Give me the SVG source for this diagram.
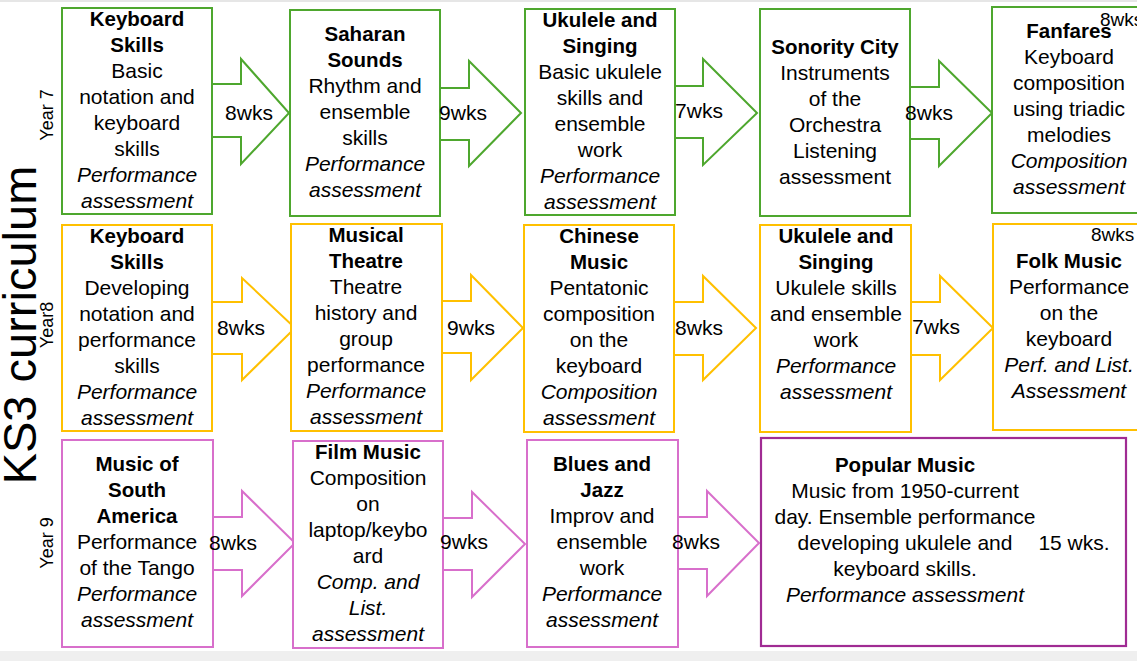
<svg xmlns="http://www.w3.org/2000/svg" width="1137" height="661" viewBox="0 0 1137 661">
<style>
text{font-family:"Liberation Sans",Arial,sans-serif;font-size:21px;fill:#000;text-anchor:middle}
.b{font-weight:bold;font-size:20.5px}
.i{font-style:italic}
.lbl{text-anchor:start}
.g{fill:#fff;stroke:#4ea72e;stroke-width:2}
.y{fill:#fff;stroke:#ffc000;stroke-width:2}
.p{fill:#fff;stroke:#d86fcb;stroke-width:2}
.pd{fill:#fff;stroke:#a02b93;stroke-width:2.2}
.ag{fill:none;stroke:#4ea72e;stroke-width:2}
.ay{fill:none;stroke:#ffc000;stroke-width:2}
.ap{fill:none;stroke:#d86fcb;stroke-width:2}
</style>
<rect x="0" y="0" width="1137" height="661" fill="#fff"/>
<rect x="0" y="0" width="1137" height="2" fill="#e6e6e6"/>
<rect x="0" y="651" width="1137" height="10" fill="#efefef"/>

<g id="side-labels">
<text transform="translate(36,325) rotate(-90)" style="font-size:47px">KS3 curriculum</text>
<text transform="translate(53,115) rotate(-90)" style="font-size:18px">Year 7</text>
<text transform="translate(53,325) rotate(-90)" style="font-size:18px">Year8</text>
<text transform="translate(53,543) rotate(-90)" style="font-size:18px">Year 9</text>
</g>

<g id="connectors">
<polyline class="ag" points="212,84 241,84 241,59 289,113 241,164 241,137 212,137"/>
<polyline class="ag" points="440,88 469,88 469,61 521,113 469,166 469,140 440,140"/>
<polyline class="ag" points="675,86 703,86 703,59 757,113 703,165 703,138 675,138"/>
<polyline class="ag" points="910,87 939,87 939,61 992,113 939,166 939,139 910,139"/>
<polyline class="ay" points="212,302 242,302 242,278 295,328 242,380 242,354 212,354"/>
<polyline class="ay" points="442,301 471,301 471,275 523,328 471,380 471,353 442,353"/>
<polyline class="ay" points="674,302 703,302 703,276 756,328 703,380 703,355 674,355"/>
<polyline class="ay" points="911,302 940,302 940,276 993,328 940,380 940,355 911,355"/>
<polyline class="ap" points="213,517 242,517 242,491 295,543 242,596 242,570 213,570"/>
<polyline class="ap" points="443,518 472,518 472,492 525,544 472,597 472,570 443,570"/>
<polyline class="ap" points="678,517 707,517 707,491 759,543 707,596 707,569 678,569"/>
</g>

<g id="y7-keyboard">
<rect class="g" x="62" y="8" width="150" height="206"/>
<text x="137" y="26" class="b">Keyboard</text>
<text x="137" y="52" class="b">Skills</text>
<text x="137" y="78">Basic</text>
<text x="137" y="104">notation and</text>
<text x="137" y="130">keyboard</text>
<text x="137" y="156">skills</text>
<text x="137" y="182" class="i">Performance</text>
<text x="137" y="208" class="i">assessment</text>
</g>
<g id="y7-saharan">
<rect class="g" x="290" y="10" width="150" height="206"/>
<text x="365" y="41" class="b">Saharan</text>
<text x="365" y="67" class="b">Sounds</text>
<text x="365" y="93">Rhythm and</text>
<text x="365" y="119">ensemble</text>
<text x="365" y="145">skills</text>
<text x="365" y="171" class="i">Performance</text>
<text x="365" y="197" class="i">assessment</text>
</g>
<g id="y7-ukulele">
<rect class="g" x="525" y="9" width="150" height="206"/>
<text x="600" y="27" class="b">Ukulele and</text>
<text x="600" y="53" class="b">Singing</text>
<text x="600" y="79">Basic ukulele</text>
<text x="600" y="105">skills and</text>
<text x="600" y="131">ensemble</text>
<text x="600" y="157">work</text>
<text x="600" y="183" class="i">Performance</text>
<text x="600" y="209" class="i">assessment</text>
</g>
<g id="y7-sonority">
<rect class="g" x="760" y="9" width="150" height="207"/>
<text x="835" y="54" class="b">Sonority City</text>
<text x="835" y="80">Instruments</text>
<text x="835" y="106">of the</text>
<text x="835" y="132">Orchestra</text>
<text x="835" y="158">Listening</text>
<text x="835" y="184">assessment</text>
</g>
<g id="y7-fanfares">
<rect class="g" x="992" y="7" width="170" height="206"/>
<text x="1069" y="38" class="b">Fanfares</text>
<text x="1069" y="64">Keyboard</text>
<text x="1069" y="90">composition</text>
<text x="1069" y="116">using triadic</text>
<text x="1069" y="142">melodies</text>
<text x="1069" y="168" class="i">Composition</text>
<text x="1069" y="194" class="i">assessment</text>
<text x="1100" y="26" class="lbl" style="font-size:19px">8wks</text>
</g>

<g id="y8-keyboard">
<rect class="y" x="62" y="225" width="150" height="206"/>
<text x="137" y="243" class="b">Keyboard</text>
<text x="137" y="269" class="b">Skills</text>
<text x="137" y="295">Developing</text>
<text x="137" y="321">notation and</text>
<text x="137" y="347">performance</text>
<text x="137" y="373">skills</text>
<text x="137" y="399" class="i">Performance</text>
<text x="137" y="425" class="i">assessment</text>
</g>
<g id="y8-theatre">
<rect class="y" x="291" y="224" width="151" height="207"/>
<text x="366" y="242" class="b">Musical</text>
<text x="366" y="268" class="b">Theatre</text>
<text x="366" y="294">Theatre</text>
<text x="366" y="320">history and</text>
<text x="366" y="346">group</text>
<text x="366" y="372">performance</text>
<text x="366" y="398" class="i">Performance</text>
<text x="366" y="424" class="i">assessment</text>
</g>
<g id="y8-chinese">
<rect class="y" x="524" y="225" width="150" height="207"/>
<text x="599" y="243" class="b">Chinese</text>
<text x="599" y="269" class="b">Music</text>
<text x="599" y="295">Pentatonic</text>
<text x="599" y="321">composition</text>
<text x="599" y="347">on the</text>
<text x="599" y="373">keyboard</text>
<text x="599" y="399" class="i">Composition</text>
<text x="599" y="425" class="i">assessment</text>
</g>
<g id="y8-ukulele">
<rect class="y" x="760" y="225" width="151" height="207"/>
<text x="836" y="243" class="b">Ukulele and</text>
<text x="836" y="269" class="b">Singing</text>
<text x="836" y="295">Ukulele skills</text>
<text x="836" y="321">and ensemble</text>
<text x="836" y="347">work</text>
<text x="836" y="373" class="i">Performance</text>
<text x="836" y="399" class="i">assessment</text>
</g>
<g id="y8-folk">
<rect class="y" x="993" y="224" width="170" height="206"/>
<text x="1091" y="241" class="lbl" style="font-size:19px">8wks</text>
<text x="1069" y="268" class="b">Folk Music</text>
<text x="1069" y="294">Performance</text>
<text x="1069" y="320">on the</text>
<text x="1069" y="346">keyboard</text>
<text x="1069" y="372" class="i">Perf. and List.</text>
<text x="1069" y="398" class="i">Assessment</text>
</g>

<g id="y9-southamerica">
<rect class="p" x="62" y="440" width="151" height="207"/>
<text x="137" y="471" class="b">Music of</text>
<text x="137" y="497" class="b">South</text>
<text x="137" y="523" class="b">America</text>
<text x="137" y="549">Performance</text>
<text x="137" y="575">of the Tango</text>
<text x="137" y="601" class="i">Performance</text>
<text x="137" y="627" class="i">assessment</text>
</g>
<g id="y9-film">
<rect class="p" x="293" y="441" width="150" height="207"/>
<text x="368" y="459" class="b">Film Music</text>
<text x="368" y="485">Composition</text>
<text x="368" y="511">on</text>
<text x="368" y="537">laptop/keybo</text>
<text x="368" y="563">ard</text>
<text x="368" y="589" class="i">Comp. and</text>
<text x="368" y="615" class="i">List.</text>
<text x="368" y="641" class="i">assessment</text>
</g>
<g id="y9-blues">
<rect class="p" x="527" y="440" width="151" height="207"/>
<text x="602" y="471" class="b">Blues and</text>
<text x="602" y="497" class="b">Jazz</text>
<text x="602" y="523">Improv and</text>
<text x="602" y="549">ensemble</text>
<text x="602" y="575">work</text>
<text x="602" y="601" class="i">Performance</text>
<text x="602" y="627" class="i">assessment</text>
</g>
<g id="y9-popular">
<rect class="pd" x="761" y="438" width="365" height="208"/>
<text x="905" y="472" class="b">Popular Music</text>
<text x="905" y="498">Music from 1950-current</text>
<text x="905" y="524">day. Ensemble performance</text>
<text x="905" y="550">developing ukulele and</text>
<text x="905" y="576">keyboard skills.</text>
<text x="905" y="602" class="i">Performance assessment</text>
<text x="1074" y="550">15 wks.</text>
</g>

<g id="connector-labels">
<text x="249" y="120">8wks</text>
<text x="463" y="120">9wks</text>
<text x="699" y="118">7wks</text>
<text x="929" y="120">8wks</text>
<text x="241" y="335">8wks</text>
<text x="471" y="335">9wks</text>
<text x="699" y="335">8wks</text>
<text x="936" y="334">7wks</text>
<text x="233" y="550">8wks</text>
<text x="464" y="549">9wks</text>
<text x="696" y="549">8wks</text>
</g>
</svg>
